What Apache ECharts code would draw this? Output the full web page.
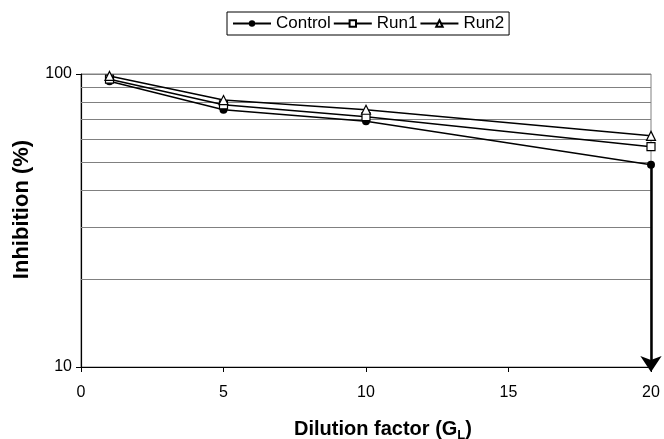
<!DOCTYPE html>
<html>
<head>
<meta charset="utf-8">
<script src="https://cdn.jsdelivr.net/npm/echarts@6/dist/echarts.min.js"></script>
<style>
    html, body { margin: 0; padding: 0; background: #fff; }
    #main { width: 664px; height: 439px; }
</style>
</head>
<body>
<div id="main"></div>
<script>
    // values
    var dilution = [1, 5, 10, 20];
    var control = [94.5, 75.5, 69, 49];
    var run1 = [96, 78.5, 71.5, 56.5];
    var run2 = [98.5, 81.5, 75.5, 61.5];
    var gridValues = [20, 30, 40, 50, 60, 70, 80, 90];
    var arrowTo = 10;

    var font = 'Liberation Sans, Arial, sans-serif';

    var pairs = function(xs, ys){
        var out = [];
        for( var i = 0; i < xs.length; i++ ){
            out.push([ xs[i], ys[i] ]);
        }
        return out;
    };

    // minor gridlines of the log axis
    var gridLines = [];
    for( var g = 0; g < gridValues.length; g++ ){
        gridLines.push({ yAxis: gridValues[g] });
    }

    var lastX = dilution[dilution.length - 1];
    var lastControl = control[control.length - 1];

    var lineStyle = { color: '#000', width: 1.5 };
    var hollow = { color: '#fff', borderColor: '#000', borderWidth: 1.2 };

    var option = {
        backgroundColor: '#fff',
        animation: false,
        textStyle: { fontFamily: font },
        legend: {
            top: 12,
            left: 227,
            padding: [3, 5, 3, 5],
            borderColor: '#000',
            borderWidth: 1,
            itemGap: 2,
            itemWidth: 38,
            itemHeight: 8,
            textStyle: { fontSize: 17, color: '#000', fontFamily: font },
            data: ['Control', 'Run1', 'Run2']
        },
        grid: {
            left: 81,
            right: 13,
            top: 74,
            bottom: 72,
            outerBoundsMode: 'none',
            show: true,
            borderColor: '#808080',
            borderWidth: 1
        },
        xAxis: {
            type: 'value',
            min: 0,
            max: 20,
            interval: 5,
            name: 'Dilution factor (G{sub|L})',
            nameLocation: 'middle',
            nameGap: 50,
            nameTextStyle: {
                fontSize: 20,
                fontWeight: 'bold',
                color: '#000',
                fontFamily: font,
                padding: [0, 0, 0, 34],
                rich: {
                    sub: { fontSize: 13, fontWeight: 'bold', color: '#000', padding: [12, 0, 0, 0], fontFamily: font }
                }
            },
            axisLine: { lineStyle: { color: '#000', width: 1.2 } },
            axisTick: { show: true, length: 5, lineStyle: { color: '#000' } },
            axisLabel: { fontSize: 16, color: '#000', margin: 18, fontFamily: font },
            splitLine: { show: false }
        },
        yAxis: {
            type: 'log',
            logBase: 10,
            min: 10,
            max: 100,
            name: 'Inhibition (%)',
            nameLocation: 'middle',
            nameGap: 48,
            nameTextStyle: {
                fontSize: 22,
                fontWeight: 'bold',
                color: '#000',
                fontFamily: font,
                padding: [0, 0, 0, 22]
            },
            axisLine: { show: true, lineStyle: { color: '#000', width: 1.2 } },
            axisTick: { show: true, length: 5, lineStyle: { color: '#000' } },
            axisLabel: { fontSize: 16, color: '#000', margin: 9, fontFamily: font },
            splitLine: { show: true, lineStyle: { color: '#808080', width: 1 } }
        },
        series: [
            {
                name: 'Control',
                type: 'line',
                data: pairs(dilution, control),
                symbol: 'circle',
                symbolSize: 8,
                itemStyle: { color: '#000' },
                lineStyle: lineStyle,
                z: 3,
                markLine: {
                    silent: true,
                    symbol: ['none', 'arrow'],
                    symbolSize: 16,
                    symbolOffset: [[0, 0], [0, -5]],
                    label: { show: false },
                    lineStyle: { color: '#000', width: 2.5, type: 'solid' },
                    data: [[ { coord: [lastX, lastControl] }, { coord: [lastX, arrowTo] } ]]
                }
            },
            {
                name: 'Run1',
                type: 'line',
                data: pairs(dilution, run1),
                symbol: 'rect',
                symbolSize: 8,
                itemStyle: hollow,
                lineStyle: lineStyle,
                z: 4
            },
            {
                name: 'Run2',
                type: 'line',
                data: pairs(dilution, run2),
                symbol: 'triangle',
                symbolSize: 9,
                itemStyle: hollow,
                lineStyle: lineStyle,
                z: 5,
                markLine: {
                    silent: true,
                    symbol: ['none', 'none'],
                    label: { show: false },
                    lineStyle: { color: '#808080', width: 1, type: 'solid' },
                    z: 1,
                    data: gridLines
                }
            }
        ]
    };

    var myChart = echarts.init(document.getElementById('main'));
    myChart.setOption(option);
</script>
</body>
</html>
